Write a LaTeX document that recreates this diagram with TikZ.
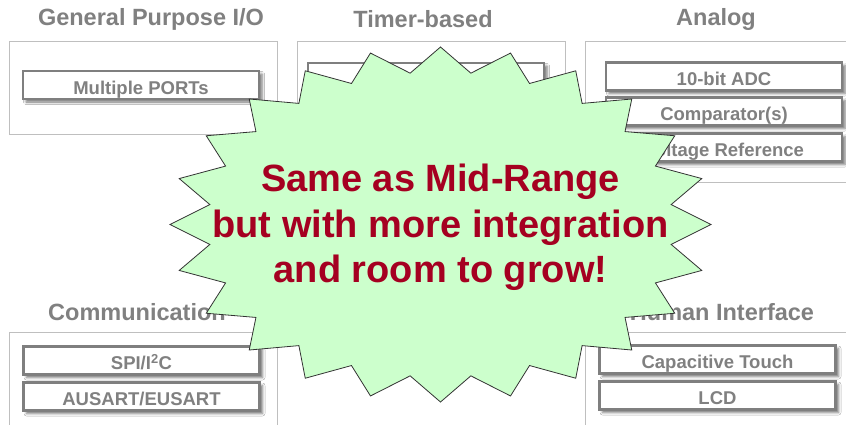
\documentclass[tikz,border=0pt]{standalone}
\usepackage{fontspec}
\setmainfont{Liberation Sans}
\usepackage{xcolor}
\usepackage{tikz}
\usetikzlibrary{shadows.blur}

\definecolor{titlegray}{RGB}{128,128,128}
\definecolor{panelline}{RGB}{191,191,191}
\definecolor{unitline}{RGB}{127,127,127}
\definecolor{burstgreen}{RGB}{204,255,204}
\definecolor{burstred}{RGB}{165,0,33}

\tikzset{
  panel/.style={draw=panelline,fill=white,line width=0.8pt},
  paneltitle/.style={text=titlegray,font=\fontsize{23.5}{26}\selectfont\bfseries},
  unit/.style={draw=unitline,fill=white,line width=2.4pt,minimum width=236pt,minimum height=28pt,
    inner sep=0pt,text height=18.6pt,text depth=0pt,text=titlegray,font=\fontsize{18.5}{20}\selectfont\bfseries,
    blur shadow={shadow xshift=3pt,shadow yshift=-3pt,shadow blur radius=2.5pt,shadow opacity=55}},
  burst/.style={draw=black!80,fill=burstgreen,line width=0.8pt,line join=miter},
}

\begin{document}
\begin{tikzpicture}[x=1pt,y=-1pt]
\clip (0,0) rectangle (846,424);
\fill[white] (0,0) rectangle (846,424);

% the five groups
\draw[panel] (9,41) rectangle (277,134);
\draw[panel] (297,41) rectangle (565,134);
\draw[panel] (585,41) rectangle (852,182);
\draw[panel] (9,332) rectangle (277,432);
\draw[panel] (585,332) rectangle (852,432);

\node[paneltitle] (gpio) at (151,19) {General Purpose I/O};
\node[paneltitle] (timer) at (423,19) {Timer-based};
\node[paneltitle] (analog) at (716,19) {Analog};
\node[paneltitle] (comm) at (137,312) {Communication};
\node[paneltitle] (hmi) at (722,312) {Human Interface};

% peripherals in each group
\node[unit] (ports) at (141,85) {Multiple PORTs};
\node[unit] (timers) at (426,77) {};
\node[unit] (adc) at (724,76.5) {10-bit ADC};
\node[unit] (comp) at (724,111.5) {Comparator(s)};
\node[unit] (vref) at (724,147.5) {Voltage Reference};
\node[unit] (spi) at (141.5,360.5) {SPI/I\textsuperscript{2}C};
\node[unit] (usart) at (141.5,396.5) {AUSART/EUSART};
\node[unit] (touch) at (717.5,359.5) {Capacitive Touch};
\node[unit] (lcd) at (717.5,395.5) {LCD};

% 24 point star over the middle
\draw[burst] (711,224.5)
  \foreach \i [evaluate=\i as \r using {1-0.14*mod(\i,2)}] in {1,...,47}{
    -- ({440.5+270.5*\r*cos(7.5*\i)},{224.5+177.5*\r*sin(7.5*\i)})
  } -- cycle;
\node[text=burstred,align=center,font=\fontsize{38}{45.5}\selectfont\bfseries] (slogan) at (440.5,227.6)
  {Same as Mid-Range\\but with more integration\\and room to grow!};
\end{tikzpicture}
\end{document}
